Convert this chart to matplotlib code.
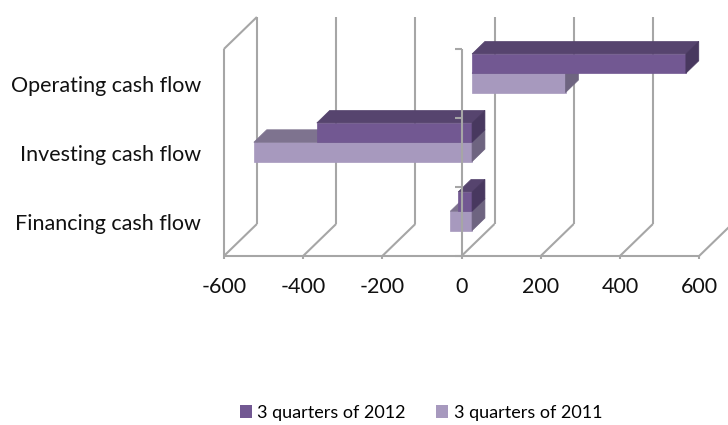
import matplotlib
matplotlib.use("Agg")
import matplotlib.pyplot as plt
from matplotlib.patches import Polygon, Patch

# --- data ---
categories = ["Financing cash flow", "Investing cash flow", "Operating cash flow"]
series_names = ["3 quarters of 2012", "3 quarters of 2011"]
values_2012 = [-35, -392, 540]
values_2011 = [-55, -551, 236]
x_ticks = [-600, -400, -200, 0, 200, 400, 600]

# --- colours (front, top, side) ---
colors_2012 = ("#725892", "#56446e", "#48385f")
colors_2011 = ("#a799be", "#7e738f", "#6e6480")
grid_col = "#a6a6a6"

# --- layout of the pseudo-3D box ---
W, H = 728, 425
px_per_val = 0.396      # pixels per value unit
zero_px = 461.5         # x pixel of value 0 on the front plane
px_per_cat = 69.0       # pixels per category slot
floor_px = 169.0        # floor height above figure bottom
DX = 33 / px_per_val    # full depth shift in value units
DY = 32 / px_per_cat    # full depth shift in category units
bar_z0, bar_z1 = 0.32, 0.71
bar_h = 0.28

plt.rcParams["font.family"] = ["Lato", "DejaVu Sans"]

fig = plt.figure(figsize=(W / 100, H / 100), dpi=100)
ax = fig.add_axes([0, 0, 1, 1])
ax.set_xlim(-zero_px / px_per_val, (W - zero_px) / px_per_val)
ax.set_ylim(-floor_px / px_per_cat, (H - floor_px) / px_per_cat)
ax.axis("off")


def proj(v, y, z):
    return (v + z * DX, y + z * DY)


def line3d(pts, zorder=1, lw=1.5, color=grid_col):
    xs, ys = zip(*[proj(*p) for p in pts])
    ax.plot(xs, ys, color=color, lw=lw, zorder=zorder, solid_capstyle="butt")


ymax = len(categories)
vmin, vmax = x_ticks[0], x_ticks[-1]

# back wall grid lines and floor diagonals
for t in x_ticks:
    line3d([(t, 0, 1), (t, ymax, 1)])
    line3d([(t, 0, 0), (t, 0, 1)])
    line3d([(t, 0, 0), (t, -0.045, 0)])
# left wall
line3d([(vmin, 0, 0), (vmin, ymax, 0)])
line3d([(vmin, ymax, 0), (vmin, ymax, 1)])
# front floor edge
line3d([(vmin, 0, 0), (vmax, 0, 0)])


def bar(v, yb, cols):
    v0, v1 = min(0, v), max(0, v)
    y0, y1 = yb, yb + bar_h
    faces = [
        [(v0, y0, bar_z0), (v1, y0, bar_z0), (v1, y1, bar_z0), (v0, y1, bar_z0)],
        [(v0, y1, bar_z0), (v1, y1, bar_z0), (v1, y1, bar_z1), (v0, y1, bar_z1)],
        [(v1, y0, bar_z0), (v1, y0, bar_z1), (v1, y1, bar_z1), (v1, y1, bar_z0)],
    ]
    for f, c in zip(faces, cols):
        ax.add_patch(Polygon([proj(*p) for p in f], closed=True, facecolor=c,
                             edgecolor=c, lw=0.5, zorder=3))


for i in range(len(categories)):
    c = i + 0.5
    bar(values_2011[i], c - bar_h, colors_2011)
    bar(values_2012[i], c, colors_2012)

# category axis on the front plane
line3d([(0, 0, 0), (0, ymax, 0)], zorder=5)
for k in range(ymax + 1):
    line3d([(0, k, 0), (-7 / px_per_val, k, 0)], zorder=5)

# labels
for i, name in enumerate(categories):
    ax.text(-658, i + 0.47, name, ha="right", va="center", fontsize=15.5, color="#111111")
for t in x_ticks:
    ax.text(t, -0.45, f"{t}", ha="center", va="center", fontsize=15.5, color="#111111")

handles = [Patch(facecolor=colors_2012[0]), Patch(facecolor=colors_2011[0])]
fig.legend(handles, series_names, loc="center", bbox_to_anchor=(421 / W, 12 / H),
           ncol=2, frameon=False, fontsize=13, handlelength=0.65, handleheight=0.75,
           handletextpad=0.3, columnspacing=1.7)

fig.savefig("out.png", dpi=100)
